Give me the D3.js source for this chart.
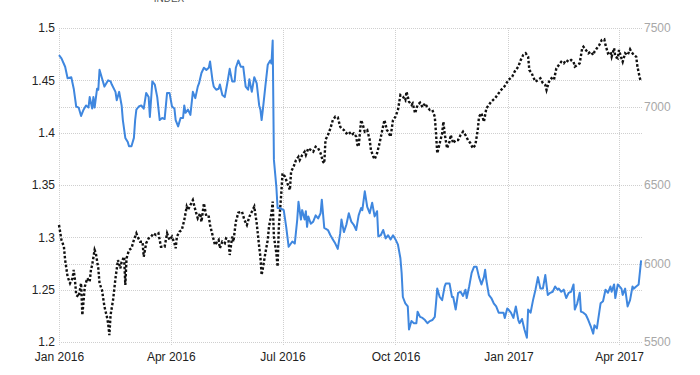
<!DOCTYPE html>
<html>
<head>
<meta charset="utf-8">
<script src="https://cdn.jsdelivr.net/npm/d3@7"></script>
<style>
  html, body { margin: 0; padding: 0; background: #fff; }
  svg { display: block; font-family: "Liberation Sans", Arial, sans-serif; }
  .grid line { stroke: #cfcfcf; stroke-width: 1; stroke-dasharray: 1,1; }
</style>
</head>
<body>
<svg id="chart" width="700" height="375"></svg>
<script>
// GBP/USD (left axis), blue line
const gbpusd = [
  ["2016-01-01",1.474],["2016-01-03",1.471],["2016-01-06",1.463],["2016-01-08",1.452],["2016-01-11",1.453],
  ["2016-01-13",1.442],["2016-01-15",1.425],["2016-01-17",1.424],["2016-01-19",1.416],["2016-01-21",1.422],
  ["2016-01-23",1.426],["2016-01-25",1.424],["2016-01-26",1.434],["2016-01-28",1.423],["2016-01-29",1.434],
  ["2016-01-30",1.424],["2016-02-01",1.442],["2016-02-02",1.441],["2016-02-03",1.460],["2016-02-05",1.452],
  ["2016-02-07",1.444],["2016-02-10",1.450],["2016-02-12",1.449],["2016-02-13",1.446],["2016-02-16",1.439],
  ["2016-02-17",1.431],["2016-02-19",1.439],["2016-02-21",1.426],["2016-02-22",1.412],["2016-02-24",1.395],
  ["2016-02-26",1.391],["2016-02-27",1.387],["2016-02-29",1.387],["2016-03-02",1.395],["2016-03-03",1.412],
  ["2016-03-04",1.422],["2016-03-06",1.425],["2016-03-08",1.426],["2016-03-10",1.423],["2016-03-12",1.438],
  ["2016-03-14",1.434],["2016-03-15",1.415],["2016-03-17",1.449],["2016-03-19",1.446],["2016-03-21",1.434],
  ["2016-03-23",1.412],["2016-03-25",1.414],["2016-03-27",1.413],["2016-03-29",1.438],["2016-03-31",1.438],
  ["2016-04-02",1.425],["2016-04-04",1.423],["2016-04-05",1.412],["2016-04-07",1.406],["2016-04-09",1.414],
  ["2016-04-11",1.414],["2016-04-12",1.426],["2016-04-13",1.419],["2016-04-15",1.422],["2016-04-17",1.417],
  ["2016-04-19",1.439],["2016-04-21",1.433],["2016-04-23",1.444],["2016-04-24",1.447],["2016-04-26",1.457],
  ["2016-04-28",1.462],["2016-04-30",1.460],["2016-05-02",1.462],["2016-05-03",1.468],["2016-05-05",1.450],
  ["2016-05-06",1.444],["2016-05-08",1.441],["2016-05-10",1.442],["2016-05-11",1.446],["2016-05-13",1.436],
  ["2016-05-15",1.434],["2016-05-17",1.447],["2016-05-19",1.461],["2016-05-21",1.449],["2016-05-23",1.449],
  ["2016-05-24",1.462],["2016-05-26",1.469],["2016-05-28",1.463],["2016-05-30",1.463],["2016-06-01",1.444],
  ["2016-06-03",1.441],["2016-06-04",1.451],["2016-06-06",1.439],["2016-06-08",1.453],["2016-06-10",1.447],
  ["2016-06-12",1.426],["2016-06-13",1.422],["2016-06-14",1.412],["2016-06-15",1.422],["2016-06-17",1.444],
  ["2016-06-19",1.465],["2016-06-21",1.469],["2016-06-22",1.466],["2016-06-23",1.488],["2016-06-24",1.374],
  ["2016-06-26",1.348],["2016-06-27",1.328],["2016-06-29",1.328],["2016-07-02",1.326],["2016-07-04",1.310],
  ["2016-07-06",1.291],["2016-07-09",1.296],["2016-07-11",1.294],["2016-07-13",1.317],["2016-07-14",1.334],
  ["2016-07-16",1.317],["2016-07-17",1.326],["2016-07-19",1.317],["2016-07-20",1.325],["2016-07-21",1.310],
  ["2016-07-22",1.320],["2016-07-24",1.313],["2016-07-26",1.315],["2016-07-28",1.321],["2016-07-30",1.318],
  ["2016-08-01",1.323],["2016-08-02",1.336],["2016-08-04",1.309],["2016-08-07",1.307],["2016-08-09",1.302],
  ["2016-08-11",1.298],["2016-08-13",1.294],["2016-08-15",1.289],["2016-08-17",1.304],["2016-08-18",1.317],
  ["2016-08-20",1.305],["2016-08-22",1.312],["2016-08-24",1.323],["2016-08-26",1.315],["2016-08-28",1.312],
  ["2016-08-30",1.307],["2016-09-01",1.321],["2016-09-03",1.328],["2016-09-04",1.326],["2016-09-06",1.344],
  ["2016-09-08",1.329],["2016-09-10",1.323],["2016-09-12",1.333],["2016-09-14",1.320],["2016-09-16",1.325],
  ["2016-09-17",1.301],["2016-09-19",1.302],["2016-09-21",1.307],["2016-09-23",1.299],["2016-09-25",1.302],
  ["2016-09-27",1.298],["2016-09-29",1.302],["2016-10-01",1.298],["2016-10-03",1.293],["2016-10-05",1.280],
  ["2016-10-06",1.266],["2016-10-07",1.243],["2016-10-09",1.237],["2016-10-11",1.234],["2016-10-12",1.212],
  ["2016-10-14",1.220],["2016-10-16",1.218],["2016-10-18",1.218],["2016-10-19",1.229],["2016-10-21",1.224],
  ["2016-10-23",1.223],["2016-10-25",1.221],["2016-10-27",1.218],["2016-10-29",1.220],["2016-10-31",1.221],
  ["2016-11-02",1.224],["2016-11-03",1.237],["2016-11-04",1.251],["2016-11-06",1.243],["2016-11-08",1.240],
  ["2016-11-10",1.253],["2016-11-11",1.256],["2016-11-14",1.256],["2016-11-16",1.243],["2016-11-17",1.243],
  ["2016-11-19",1.231],["2016-11-21",1.247],["2016-11-23",1.248],["2016-11-25",1.244],["2016-11-27",1.250],
  ["2016-11-28",1.242],["2016-11-30",1.253],["2016-12-02",1.266],["2016-12-04",1.272],["2016-12-06",1.272],
  ["2016-12-08",1.262],["2016-12-10",1.255],["2016-12-12",1.262],["2016-12-13",1.269],["2016-12-14",1.259],
  ["2016-12-16",1.245],["2016-12-18",1.242],["2016-12-20",1.237],["2016-12-22",1.234],["2016-12-24",1.228],
  ["2016-12-26",1.228],["2016-12-28",1.228],["2016-12-29",1.223],["2016-12-31",1.232],["2017-01-01",1.231],
  ["2017-01-03",1.228],["2017-01-05",1.223],["2017-01-07",1.234],["2017-01-09",1.221],["2017-01-10",1.218],
  ["2017-01-12",1.222],["2017-01-14",1.212],["2017-01-16",1.204],["2017-01-17",1.231],["2017-01-19",1.228],
  ["2017-01-21",1.240],["2017-01-23",1.250],["2017-01-25",1.262],["2017-01-27",1.251],["2017-01-29",1.251],
  ["2017-01-31",1.264],["2017-02-02",1.245],["2017-02-04",1.247],["2017-02-06",1.248],["2017-02-08",1.253],
  ["2017-02-10",1.250],["2017-02-11",1.251],["2017-02-13",1.248],["2017-02-15",1.250],["2017-02-17",1.242],
  ["2017-02-19",1.247],["2017-02-21",1.248],["2017-02-23",1.255],["2017-02-24",1.231],["2017-02-26",1.237],
  ["2017-02-28",1.247],["2017-03-01",1.229],["2017-03-03",1.228],["2017-03-05",1.226],["2017-03-07",1.221],
  ["2017-03-09",1.215],["2017-03-11",1.208],["2017-03-12",1.216],["2017-03-14",1.213],["2017-03-16",1.229],
  ["2017-03-17",1.237],["2017-03-19",1.239],["2017-03-21",1.250],["2017-03-23",1.247],["2017-03-25",1.253],
  ["2017-03-26",1.248],["2017-03-28",1.255],["2017-03-29",1.242],["2017-03-31",1.255],["2017-04-03",1.251],
  ["2017-04-04",1.245],["2017-04-06",1.251],["2017-04-08",1.234],["2017-04-10",1.240],["2017-04-12",1.253],
  ["2017-04-13",1.251],["2017-04-15",1.253],["2017-04-17",1.255],["2017-04-19",1.278]
];

// FTSE 100 index (right axis), black dotted line
const ftse = [
  ["2016-01-01",6245],["2016-01-03",6150],["2016-01-05",6107],["2016-01-06",6022],["2016-01-08",5916],
  ["2016-01-10",5874],["2016-01-12",5906],["2016-01-13",5959],["2016-01-14",5895],["2016-01-15",5799],
  ["2016-01-17",5788],["2016-01-19",5874],["2016-01-20",5672],["2016-01-22",5852],["2016-01-24",5906],
  ["2016-01-26",5884],["2016-01-27",5959],["2016-01-28",5990],["2016-01-30",6086],["2016-01-31",6065],
  ["2016-02-02",5969],["2016-02-03",5874],["2016-02-05",5831],["2016-02-07",5725],["2016-02-09",5661],
  ["2016-02-10",5619],["2016-02-11",5544],["2016-02-12",5672],["2016-02-14",5767],["2016-02-16",5906],
  ["2016-02-18",6022],["2016-02-20",5969],["2016-02-21",6011],["2016-02-23",6043],["2016-02-24",5863],
  ["2016-02-25",6033],["2016-02-27",6086],["2016-02-29",6097],["2016-03-02",6150],["2016-03-04",6192],
  ["2016-03-05",6171],["2016-03-07",6139],["2016-03-09",6139],["2016-03-10",6043],["2016-03-12",6129],
  ["2016-03-14",6160],["2016-03-16",6171],["2016-03-18",6192],["2016-03-20",6181],["2016-03-22",6192],
  ["2016-03-24",6107],["2016-03-27",6107],["2016-03-29",6192],["2016-03-31",6150],["2016-04-02",6171],
  ["2016-04-04",6129],["2016-04-05",6097],["2016-04-06",6171],["2016-04-08",6202],["2016-04-10",6213],
  ["2016-04-12",6277],["2016-04-14",6362],["2016-04-15",6341],["2016-04-17",6373],["2016-04-19",6404],
  ["2016-04-21",6341],["2016-04-23",6288],["2016-04-25",6320],["2016-04-26",6266],["2016-04-28",6383],
  ["2016-04-30",6298],["2016-05-02",6298],["2016-05-03",6245],["2016-05-05",6181],["2016-05-07",6118],
  ["2016-05-08",6129],["2016-05-10",6150],["2016-05-11",6097],["2016-05-13",6139],["2016-05-15",6129],
  ["2016-05-16",6160],["2016-05-18",6150],["2016-05-19",6054],["2016-05-21",6171],["2016-05-22",6139],
  ["2016-05-24",6266],["2016-05-26",6323],["2016-05-29",6330],["2016-05-31",6277],["2016-06-02",6245],
  ["2016-06-04",6298],["2016-06-06",6330],["2016-06-08",6362],["2016-06-10",6256],["2016-06-12",6107],
  ["2016-06-13",6043],["2016-06-14",5927],["2016-06-15",5969],["2016-06-17",6065],["2016-06-19",6150],
  ["2016-06-20",6234],["2016-06-22",6320],["2016-06-23",6394],["2016-06-24",6171],["2016-06-26",6065],
  ["2016-06-27",5980],["2016-06-28",6234],["2016-06-30",6447],["2016-07-01",6574],["2016-07-03",6553],
  ["2016-07-04",6532],["2016-07-06",6489],["2016-07-07",6468],["2016-07-08",6585],["2016-07-10",6616],
  ["2016-07-12",6659],["2016-07-14",6680],["2016-07-15",6659],["2016-07-17",6691],["2016-07-19",6712],
  ["2016-07-20",6691],["2016-07-22",6734],["2016-07-24",6723],["2016-07-26",6712],["2016-07-28",6744],
  ["2016-07-30",6734],["2016-08-01",6702],["2016-08-03",6648],["2016-08-04",6638],["2016-08-05",6787],
  ["2016-08-07",6818],["2016-08-09",6861],["2016-08-11",6914],["2016-08-13",6935],["2016-08-15",6931],
  ["2016-08-17",6871],["2016-08-18",6861],["2016-08-20",6850],["2016-08-22",6829],["2016-08-24",6840],
  ["2016-08-26",6818],["2016-08-28",6829],["2016-08-30",6808],["2016-08-31",6755],["2016-09-01",6744],
  ["2016-09-03",6914],["2016-09-04",6893],["2016-09-06",6840],["2016-09-08",6850],["2016-09-10",6787],
  ["2016-09-11",6723],["2016-09-13",6680],["2016-09-14",6664],["2016-09-16",6702],["2016-09-18",6766],
  ["2016-09-20",6840],["2016-09-22",6914],["2016-09-24",6850],["2016-09-25",6840],["2016-09-27",6808],
  ["2016-09-29",6914],["2016-10-01",6935],["2016-10-03",6978],["2016-10-05",7073],["2016-10-07",7063],
  ["2016-10-09",7041],["2016-10-10",7094],["2016-10-12",7031],["2016-10-14",7010],["2016-10-15",7020],
  ["2016-10-17",6957],["2016-10-19",7010],["2016-10-21",7024],["2016-10-23",6995],["2016-10-25",7020],
  ["2016-10-27",6995],["2016-10-29",6978],["2016-10-31",6978],["2016-11-02",6935],["2016-11-03",6829],
  ["2016-11-04",6702],["2016-11-06",6766],["2016-11-08",6829],["2016-11-09",6903],["2016-11-10",6829],
  ["2016-11-12",6734],["2016-11-14",6776],["2016-11-15",6818],["2016-11-17",6766],["2016-11-19",6787],
  ["2016-11-21",6787],["2016-11-23",6818],["2016-11-25",6840],["2016-11-27",6818],["2016-11-29",6787],
  ["2016-12-01",6766],["2016-12-03",6734],["2016-12-05",6755],["2016-12-07",6850],["2016-12-08",6935],
  ["2016-12-10",6957],["2016-12-12",6903],["2016-12-14",6988],["2016-12-16",7010],["2016-12-18",7031],
  ["2016-12-21",7052],["2016-12-24",7084],["2016-12-26",7105],["2016-12-29",7131],["2017-01-01",7169],
  ["2017-01-04",7190],["2017-01-06",7222],["2017-01-09",7254],["2017-01-11",7296],["2017-01-13",7328],
  ["2017-01-15",7339],["2017-01-17",7317],["2017-01-18",7232],["2017-01-20",7211],["2017-01-21",7190],
  ["2017-01-23",7158],["2017-01-25",7169],["2017-01-27",7180],["2017-01-29",7148],["2017-01-31",7137],
  ["2017-02-01",7105],["2017-02-03",7158],["2017-02-05",7180],["2017-02-07",7169],["2017-02-09",7243],
  ["2017-02-11",7264],["2017-02-13",7285],["2017-02-15",7275],["2017-02-17",7296],["2017-02-19",7285],
  ["2017-02-21",7296],["2017-02-23",7285],["2017-02-24",7254],["2017-02-26",7264],["2017-02-28",7275],
  ["2017-03-02",7371],["2017-03-03",7381],["2017-03-05",7360],["2017-03-07",7339],["2017-03-09",7349],
  ["2017-03-11",7328],["2017-03-12",7349],["2017-03-14",7371],["2017-03-16",7392],["2017-03-18",7424],
  ["2017-03-20",7428],["2017-03-21",7392],["2017-03-23",7339],["2017-03-25",7349],["2017-03-26",7317],
  ["2017-03-28",7371],["2017-03-29",7317],["2017-03-31",7307],["2017-04-01",7360],["2017-04-03",7307],
  ["2017-04-04",7285],["2017-04-06",7339],["2017-04-08",7328],["2017-04-10",7364],["2017-04-11",7349],
  ["2017-04-13",7328],["2017-04-15",7317],["2017-04-16",7254],["2017-04-18",7180],["2017-04-19",7158]
];

// axis ticks
const monthTicks = ["2016-01-01","2016-04-01","2016-07-01","2016-10-01","2017-01-01","2017-04-01"];
const leftTicks = [1.2, 1.25, 1.3, 1.35, 1.4, 1.45, 1.5];
const rightTicks = [5500, 6000, 6500, 7000, 7500];

const parse = d3.timeParse("%Y-%m-%d");
const svg = d3.select("#chart");

const plotL = 59, plotR = 643, plotT = 28, plotB = 342;

// time scale: Jan 1 2016 -> 59, Apr 1 2017 -> 619
const x = d3.scaleTime()
  .domain([parse("2016-01-01"), parse("2017-04-01")])
  .range([59, 619]);
const yL = d3.scaleLinear().domain([1.2, 1.5]).range([plotB, plotT]);
const yR = d3.scaleLinear().domain([5500, 7500]).range([plotB, plotT]);

// Grid
const grid = svg.append("g").attr("class", "grid");
grid.selectAll("line.hl").data(leftTicks).join("line")
  .attr("class", "hl")
  .attr("x1", plotL).attr("x2", plotR)
  .attr("y1", d => Math.round(yL(d)) + 0.5).attr("y2", d => Math.round(yL(d)) + 0.5);
grid.selectAll("line.hr").data(rightTicks.filter(v => v === 6000 || v === 7000)).join("line")
  .attr("class", "hr")
  .attr("x1", plotL).attr("x2", plotR)
  .attr("y1", d => Math.round(yR(d)) + 0.5).attr("y2", d => Math.round(yR(d)) + 0.5);
grid.selectAll("line.v").data(monthTicks.map(parse)).join("line")
  .attr("class", "v")
  .attr("x1", d => Math.round(x(d)) + 0.5).attr("x2", d => Math.round(x(d)) + 0.5)
  .attr("y1", plotT).attr("y2", plotB + 4);

// Left axis
const axL = svg.append("g").attr("transform", `translate(${plotL},0)`)
  .call(d3.axisLeft(yL).tickValues(leftTicks).tickSize(0).tickPadding(4).tickFormat(d => String(d)));
axL.select(".domain").remove();
axL.selectAll("text").attr("fill", "#222").style("font-size", "12px");

// Right axis
const axR = svg.append("g").attr("transform", `translate(${plotR},0)`)
  .call(d3.axisRight(yR).tickValues(rightTicks).tickSize(0).tickPadding(1).tickFormat(d3.format("d")));
axR.select(".domain").remove();
axR.selectAll("text").attr("fill", "#a8a8a8").style("font-size", "12px");

// Bottom axis
const axB = svg.append("g").attr("transform", `translate(0,${plotB})`)
  .call(d3.axisBottom(x).tickValues(monthTicks.map(parse)).tickSize(0).tickPadding(10)
    .tickFormat(d3.timeFormat("%b %Y")));
axB.select(".domain").remove();
axB.selectAll("text").attr("fill", "#222").style("font-size", "12px");

// Lines
const lineL = d3.line().x(d => x(parse(d[0]))).y(d => yL(d[1]));
const lineR = d3.line().x(d => x(parse(d[0]))).y(d => yR(d[1]));

svg.append("path").datum(ftse)
  .attr("d", lineR)
  .attr("fill", "none")
  .attr("stroke", "#111")
  .attr("stroke-width", 2.4)
  .attr("stroke-dasharray", "2.5,2");

svg.append("path").datum(gbpusd)
  .attr("d", lineL)
  .attr("fill", "none")
  .attr("stroke", "#3f87df")
  .attr("stroke-width", 2)
  .attr("stroke-linejoin", "round");

// title, cut off at the top edge as in the original
svg.append("text")
  .attr("x", 169).attr("y", 2)
  .attr("text-anchor", "middle")
  .attr("fill", "#555")
  .style("font-size", "10px")
  .text("INDEX");
</script>
</body>
</html>
